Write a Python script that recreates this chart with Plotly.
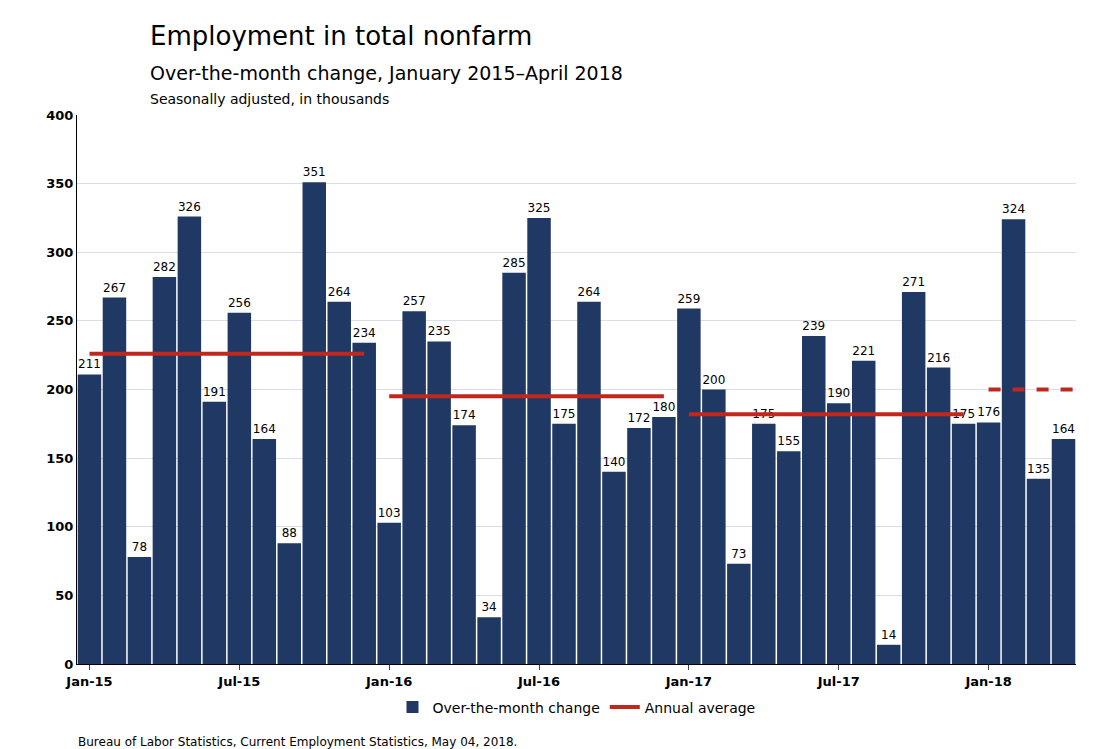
import plotly.graph_objects as go

months = [f"{m}-{y}" for y in ["15", "16", "17", "18"]
          for m in ["Jan", "Feb", "Mar", "Apr", "May", "Jun", "Jul", "Aug", "Sep", "Oct", "Nov", "Dec"]][:40]
change = [211, 267, 78, 282, 326, 191, 256, 164, 88, 351, 264, 234,
          103, 257, 235, 174, 34, 285, 325, 175, 264, 140, 172, 180,
          259, 200, 73, 175, 155, 239, 190, 221, 14, 271, 216, 175,
          176, 324, 135, 164]
avg_years = ["2015", "2016", "2017", "2018"]
avg_values = [226, 195, 182, 200]
avg_start = [0, 12, 24, 36]
avg_end = [11, 23, 35, 39.9]
tick_idx = [0, 6, 12, 18, 24, 30, 36]

navy = "#1f3864"
red = "#c0281e"
fig = go.Figure()
fig.add_trace(go.Bar(x=list(range(len(change))), y=change, marker_color=navy,
                     marker_line_width=0, name="Over-the-month change",
                     text=change, textposition="outside", cliponaxis=False,
                     textfont=dict(size=12, color="black"),
                     hovertext=months))
for i, (yr, v, s, e) in enumerate(zip(avg_years, avg_values, avg_start, avg_end)):
    fig.add_trace(go.Scatter(x=[s, e], y=[v, v], mode="lines",
                             line=dict(color=red, width=4, dash="dash" if yr == "2018" else "solid"),
                             name="Annual average", showlegend=(i == 0)))

# plot area: x 77..1075, y 115..664 (pixels)
fig.update_layout(
    width=1100, height=749, plot_bgcolor="white", paper_bgcolor="white",
    font=dict(family="DejaVu Sans", size=13, color="black"),
    margin=dict(l=69, r=32, t=107, b=93),
    bargap=0.06,
    xaxis=dict(range=[-0.5, 39.5], tickvals=tick_idx,
               ticktext=[months[i] for i in tick_idx],
               tickfont=dict(size=13, family="DejaVu Sans", weight="bold"),
               showline=True, linecolor="black", ticks="outside", ticklen=5),
    yaxis=dict(range=[0, 400], dtick=50, gridcolor="#dcdcf0",
               tickfont=dict(size=13, family="DejaVu Sans", weight="bold"),
               showline=True, linecolor="black", zeroline=False),
    legend=dict(orientation="h", x=0.5, xanchor="center", y=-0.05, yanchor="top",
                font=dict(size=14)),
)


def px_to_paper(px, py):
    return (px - 77) / 998, (664 - py) / 549


for txt, py, size in [("Employment in total nonfarm", 36, 26),
                      ("Over-the-month change, January 2015\u2013April 2018", 73, 19),
                      ("Seasonally adjusted, in thousands", 99, 14)]:
    xp, yp = px_to_paper(148, py)
    fig.add_annotation(text=txt, x=xp, y=yp, xref="paper", yref="paper",
                       xanchor="left", yanchor="middle", showarrow=False,
                       font=dict(size=size))
xp, yp = px_to_paper(76, 742)
fig.add_annotation(text="Bureau of Labor Statistics, Current Employment Statistics, May 04, 2018.",
                   x=xp, y=yp, xref="paper", yref="paper",
                   xanchor="left", yanchor="middle", showarrow=False, font=dict(size=12))
fig.write_html("out.html")
